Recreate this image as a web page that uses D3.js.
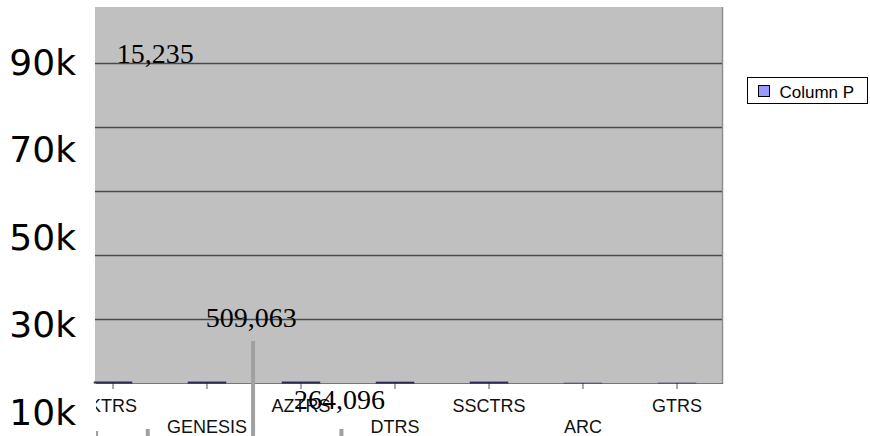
<!DOCTYPE html>
<html>
<head>
<meta charset="utf-8">
<script src="https://cdn.jsdelivr.net/npm/d3@7/dist/d3.min.js"></script>
<style>
  html, body { margin: 0; padding: 0; background: #fff; }
  svg { display: block; }
</style>
</head>
<body>
<svg id="chart" width="870" height="436"></svg>
<script>
// Category names along the x axis
const categories = ["KTRS", "GENESIS", "AZTRS", "DTRS", "SSCTRS", "ARC", "GTRS"];
// Column P values per category
const columnP = [620, 600, 610, 560, 590, 280, 300];
// Gridline values on the plot scale
const gridTicks = [20000, 40000, 60000, 80000, 100000];
// Value axis labels
const axisLabels = [10000, 30000, 50000, 70000, 90000];
// Data label values
const labelValues = [15235, 509063, 264096];
// Leader bar values (gray markers under the data labels)
const leaderValues = [0, 15235, 509063, 264096];
const seriesName = "Column P";

const svg = d3.select("#chart");
const W = 870, H = 436;

// Layout
const plot = { left: 95, right: 722, top: 7, bottom: 383.5 };

// Scales
const x = d3.scaleBand(categories, [66, 724]).paddingInner(0).paddingOuter(0);
const y = d3.scaleLinear([0, 117650], [plot.bottom, plot.top]);
const yLab = d3.scaleLinear([10000, 90000], [412.5, 62.5]);

// Plot background
svg.append("rect")
  .attr("x", plot.left).attr("y", plot.top)
  .attr("width", plot.right - plot.left).attr("height", plot.bottom - plot.top)
  .attr("fill", "#c0c0c0");
svg.append("line")
  .attr("x1", plot.right + 0.5).attr("x2", plot.right + 0.5)
  .attr("y1", plot.top).attr("y2", plot.bottom)
  .attr("stroke", "#8e8e8e").attr("stroke-width", 1.5);

// Gridlines
svg.append("g").selectAll("line").data(gridTicks).join("line")
  .attr("x1", plot.left).attr("x2", plot.right)
  .attr("y1", d => Math.round(y(d)) + 0.5).attr("y2", d => Math.round(y(d)) + 0.5)
  .attr("stroke", "#4a4a4a").attr("stroke-width", 1.3);

// Clip for the lower axis region
svg.append("clipPath").attr("id", "lowclip")
  .append("rect").attr("x", 96).attr("y", 0).attr("width", W - 96).attr("height", H);

// Bars
const barW = x.bandwidth() * 0.41;
svg.append("g").selectAll("rect").data(columnP).join("rect")
  .attr("x", (d, i) => x(categories[i]) + x.bandwidth() / 2 - barW / 2)
  .attr("width", barW)
  .attr("y", d => y(d))
  .attr("height", d => y(0) - y(d))
  .attr("fill", "#2a2a55")
  .attr("opacity", (d) => d > 400 ? 1 : 0.6);

// Category axis
const xAxis = svg.append("g")
  .attr("transform", `translate(0,${plot.bottom - 0.5})`)
  .attr("clip-path", "url(#lowclip)")
  .call(d3.axisBottom(x).tickSize(6).tickSizeOuter(0));
xAxis.select(".domain").remove();
xAxis.append("line")
  .attr("x1", plot.left).attr("x2", plot.right + 1)
  .attr("stroke", "#111").attr("stroke-width", 1.2);
xAxis.selectAll(".tick line").attr("stroke", "#555");
xAxis.selectAll(".tick text")
  .attr("font-family", "'Liberation Sans', Arial, sans-serif")
  .attr("font-size", 18)
  .attr("fill", "#111")
  .attr("dy", 0)
  .attr("y", (d, i) => i % 2 ? 50 : 29);

// Value axis labels
const yAxis = svg.append("g")
  .attr("transform", "translate(76,0)")
  .call(d3.axisLeft(yLab).tickValues(axisLabels).tickSize(0).tickPadding(0)
    .tickFormat(d => d / 1000 + "k"));
yAxis.select(".domain").remove();
yAxis.selectAll(".tick text")
  .attr("font-family", "'DejaVu Sans', Verdana, sans-serif")
  .attr("font-size", 36)
  .attr("fill", "#000");

// Leader bars under the data labels
const leaderSlot = [-0.18, 0.37, 1.49, 2.43];
const leaderTop = [431, 429, 341, 429];
svg.append("g").attr("clip-path", "url(#lowclip)")
  .selectAll("rect").data(leaderValues).join("rect")
  .attr("x", (d, i) => x(categories[0]) + x.bandwidth() * (0.5 + leaderSlot[i]) - 2)
  .attr("width", 4)
  .attr("y", (d, i) => leaderTop[i])
  .attr("height", (d, i) => H - leaderTop[i])
  .attr("fill", "#a0a0a0");

// Data labels
const labelSlot = [0.45, 1.47, 2.41];
const labelBase = [63, 327, 409];
svg.append("g").selectAll("text").data(labelValues).join("text")
  .attr("x", (d, i) => x(categories[0]) + x.bandwidth() * (0.5 + labelSlot[i]))
  .attr("y", (d, i) => labelBase[i])
  .attr("text-anchor", "middle")
  .attr("font-family", "'Liberation Serif', 'Times New Roman', serif")
  .attr("font-size", 28)
  .attr("fill", "#000")
  .text(d => d3.format(",")(d));

// Legend
const lg = svg.append("g").attr("transform", "translate(747.5,77.5)");
lg.append("rect").attr("width", 120).attr("height", 26)
  .attr("fill", "#fff").attr("stroke", "#000").attr("stroke-width", 1);
lg.append("rect").attr("x", 11).attr("y", 8).attr("width", 11).attr("height", 11)
  .attr("fill", "#9999ff").attr("stroke", "#000").attr("stroke-width", 1);
lg.append("text").attr("x", 32).attr("y", 20.5)
  .attr("font-family", "'Liberation Sans', Arial, sans-serif")
  .attr("font-size", 17).attr("fill", "#000")
  .text(seriesName);
</script>
</body>
</html>
